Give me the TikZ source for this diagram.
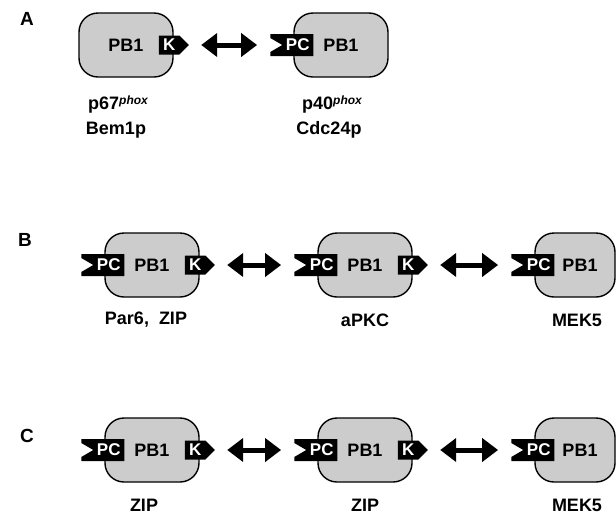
\documentclass[tikz,border=0pt]{standalone}
\usepackage{fontspec}
\setmainfont{Liberation Sans}
\usetikzlibrary{shapes.symbols,arrows.meta,positioning}

\definecolor{domgray}{gray}{0.8}

% PC motif with its notch, left of domain #1, text node named #2
\newcommand{\pcmotif}[2]{%
  \fill (#1.west) ++(-23,-11) -- ++(43,0) -- ++(0,22) -- ++(-43,0) -- ++(0,-4) -- ++(12,-7) -- ++(-12,-7) -- cycle
    node[pcmod] (#2) at ([xshift=-1.5pt]#1.west) {\hspace{12pt}PC};}

\begin{document}
\begin{tikzpicture}[
    x=1pt, y=-1pt,
    pb/.style={draw, line width=1.4pt, rounded corners=19pt, fill=domgray, minimum width=94pt, minimum height=64pt, font=\bfseries\fontsize{18}{18}\selectfont},
    kmod/.style={signal, signal to=east, fill=black, text=white, minimum height=19pt, minimum width=30pt, inner sep=0pt, font=\bfseries\fontsize{17}{17}\selectfont},
    pcmod/.style={text=white, minimum height=22pt, minimum width=43pt, inner sep=0pt, font=\bfseries\fontsize{17}{17}\selectfont},
    lbl/.style={font=\bfseries\fontsize{18}{18}\selectfont},
    panel/.style={font=\bfseries\fontsize{19}{19}\selectfont},
    link/.style={line width=5pt, {Triangle[length=16pt,width=23pt]}-{Triangle[length=16pt,width=23pt]}, shorten <=12pt, shorten >=13pt}
]
    \useasboundingbox (0,0) rectangle (616,515);

    % Panel A
    \node[panel] (pa) at (27,19) {A};
    \node[pb] (a1) at (126,45) {PB1};
    \node[kmod, anchor=west] (a1k) at ([xshift=-15pt]a1.east) {K};
    \node[pb] (a2) at (341,45) {PB1};
    \pcmotif{a2}{a2pc}
    \node[lbl] (a1n) at (118,105) {p67\raisebox{5pt}{\fontsize{12}{12}\selectfont\itshape phox}};
    \node[lbl] (a1m) at (116,130) {Bem1p};
    \node[lbl] (a2n) at (332,105) {p40\raisebox{5pt}{\fontsize{12}{12}\selectfont\itshape phox}};
    \node[lbl] (a2m) at (329,130) {Cdc24p};

    % Panel B
    \node[panel] (pb) at (25,240) {B};
    \node[pb] (b1) at (152,265) {PB1};
    \pcmotif{b1}{b1pc}
    \node[kmod, anchor=west] (b1k) at ([xshift=-15pt]b1.east) {K};
    \node[pb] (b2) at (365,265) {PB1};
    \pcmotif{b2}{b2pc}
    \node[kmod, anchor=west] (b2k) at ([xshift=-15pt]b2.east) {K};
    \node[pb, minimum width=80pt] (b3) at (575,265) {\hspace{10pt}PB1};
    \pcmotif{b3}{b3pc}
    \node[lbl] (b1n) at (146,320) {Par6,\ \ ZIP};
    \node[lbl] (b2n) at (365,320) {aPKC};
    \node[lbl] (b3n) at (577,320) {MEK5};

    % Panel C
    \node[panel] (pc) at (27,436) {C};
    \node[pb] (c1) at (152,450) {PB1};
    \pcmotif{c1}{c1pc}
    \node[kmod, anchor=west] (c1k) at ([xshift=-15pt]c1.east) {K};
    \node[pb] (c2) at (365,450) {PB1};
    \pcmotif{c2}{c2pc}
    \node[kmod, anchor=west] (c2k) at ([xshift=-15pt]c2.east) {K};
    \node[pb, minimum width=80pt] (c3) at (575,450) {\hspace{10pt}PB1};
    \pcmotif{c3}{c3pc}
    \node[lbl] (c1n) at (144,505) {ZIP};
    \node[lbl] (c2n) at (365,505) {ZIP};
    \node[lbl] (c3n) at (577,505) {MEK5};

    % Arrows
    \draw[link] (a1k.east) -- (a2pc.west);
    \draw[link] (b1k.east) -- (b2pc.west);
    \draw[link] (b2k.east) -- (b3pc.west);
    \draw[link] (c1k.east) -- (c2pc.west);
    \draw[link] (c2k.east) -- (c3pc.west);

\end{tikzpicture}
\end{document}
